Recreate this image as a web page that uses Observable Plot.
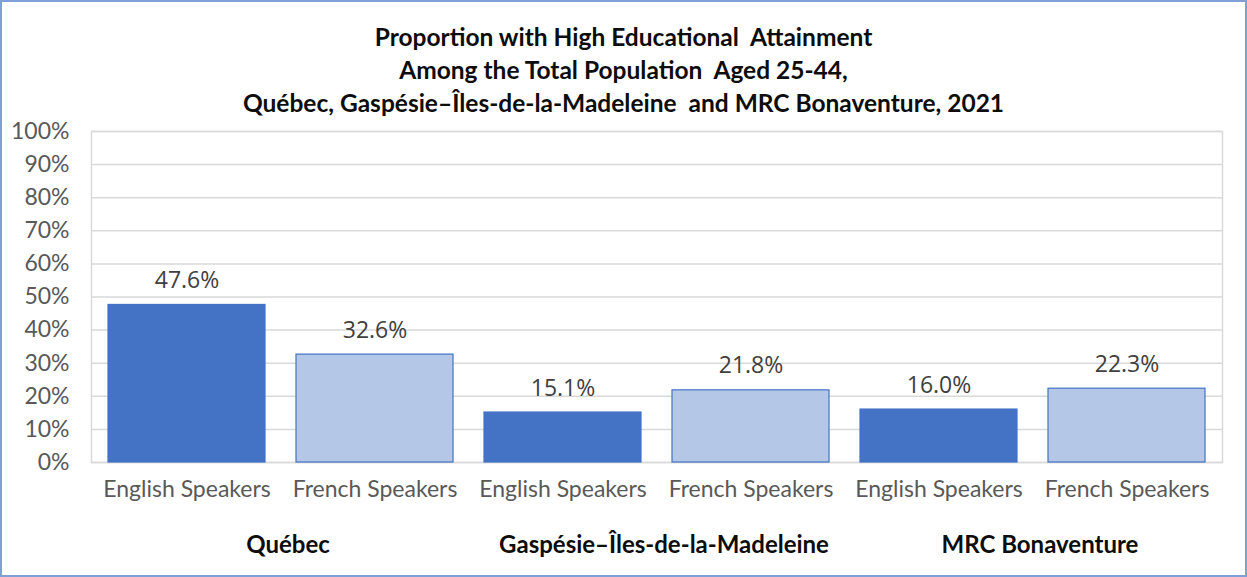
<!DOCTYPE html>
<html>
<head>
<meta charset="utf-8">
<script src="https://cdn.jsdelivr.net/npm/d3@7"></script>
<script src="https://cdn.jsdelivr.net/npm/@observablehq/plot@0.6"></script>
<style>
  html, body { margin: 0; padding: 0; background: #fff; }
  #wrap { position: relative; width: 1247px; height: 577px; overflow: hidden; background: #fff; }
  #title { position: absolute; left: 0; top: 0; width: 1247px; height: 110px; box-sizing: border-box;
    padding-top: 20px; text-align: center; font-family: Lato, sans-serif; font-weight: 700;
    font-size: 24.5px; line-height: 33px; color: #0d0d0d; white-space: pre; }
  #chart { position: absolute; left: 0; top: 100px; }
  #border { position: absolute; left: 0; top: 0; width: 1247px; height: 577px; box-sizing: border-box;
    border: 2px solid #7f9fd8; pointer-events: none; }
</style>
</head>
<body>
<div id="wrap">
  <div id="title"></div>
  <div id="chart"></div>
  <div id="border"></div>
</div>
<script>
const titleLines = [
  "Proportion with High Educational  Attainment",
  "Among the Total Population  Aged 25-44,",
  "Québec, Gaspésie–Îles-de-la-Madeleine  and MRC Bonaventure, 2021"
];
const groups = ["Québec", "Gaspésie–Îles-de-la-Madeleine", "MRC Bonaventure"];
const speakers = ["English Speakers", "French Speakers"];
const englishValues = [47.6, 15.1, 16.0];
const frenchValues = [32.6, 21.8, 22.3];
const yTicks = [0, 10, 20, 30, 40, 50, 60, 70, 80, 90, 100];
const speakerColors = ["#4472C4", "#B4C7E7"];

document.getElementById("title").textContent = titleLines.join("\n");

const rows = [];
groups.forEach((g, i) => {
  rows.push({group: g, speaker: speakers[0], key: g + "|" + speakers[0], value: englishValues[i], si: 0});
  rows.push({group: g, speaker: speakers[1], key: g + "|" + speakers[1], value: frenchValues[i], si: 1});
});
const groupRows = groups.map(g => ({group: g, key: g + "|" + speakers[0]}));

const chart = Plot.plot({
  width: 1247,
  height: 477,
  marginTop: 31,
  marginLeft: 91,
  marginRight: 25,
  marginBottom: 115,
  style: {background: "transparent"},
  x: {domain: rows.map(d => d.key), paddingInner: 0.167, paddingOuter: 0.0835, label: null},
  y: {domain: [0, 100], label: null},
  marks: [
    Plot.gridY(yTicks, {stroke: "#d9d9d9", strokeOpacity: 1, strokeWidth: 1.5}),
    Plot.frame({stroke: "#d9d9d9", strokeWidth: 1.5}),
    Plot.barY(rows, {
      x: "key", y: "value",
      fill: d => speakerColors[d.si],
      stroke: "#4472C4", strokeWidth: 1.2
    }),
    Plot.text(rows, {
      x: "key", y: "value",
      text: d => d.value.toFixed(1) + "%",
      dy: -17, lineAnchor: "bottom",
      fontFamily: "'Open Sans', sans-serif", fontSize: 23, fill: "#404040"
    }),
    Plot.axisY(yTicks, {
      tickFormat: d => d + "%", tickSize: 0, tickPadding: 22, label: null,
      fontFamily: "Lato, sans-serif", fontSize: 23, fill: "#595959"
    }),
    Plot.axisX({
      tickFormat: k => k.split("|")[1], tickSize: 0, tickPadding: 18, label: null,
      fontFamily: "Lato, sans-serif", fontSize: 23, fill: "#595959"
    }),
    Plot.text(groupRows, {
      x: "key", text: "group", frameAnchor: "bottom",
      dx: 101, dy: 83, lineAnchor: "middle",
      fontFamily: "Lato, sans-serif", fontWeight: 700, fontSize: 24, fill: "#0d0d0d"
    })
  ]
});
document.getElementById("chart").appendChild(chart);
</script>
</body>
</html>
